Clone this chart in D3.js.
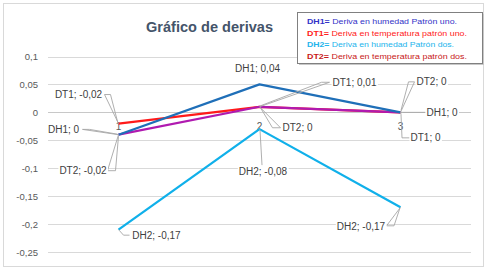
<!DOCTYPE html>
<html><head><meta charset="utf-8">
<script src="https://cdn.jsdelivr.net/npm/d3@7"></script>
<style>body{margin:0;background:#fff}svg{display:block}text{font-family:"Liberation Sans",Arial,sans-serif}</style>
</head><body>
<svg id="c" width="489" height="269"></svg>
<script>
// ---- data ----
const categories = ["1", "2", "3"];
const seriesNames = ["DT1", "DT2", "DH1", "DH2"]; // stacking order (Excel stacked line)
const DT1 = [-0.02, 0.01, 0];
const DT2 = [-0.02, 0, 0];
const DH1 = [0, 0.04, 0];
const DH2 = [-0.17, -0.08, -0.17];
const yTicks = [0.1, 0.05, 0, -0.05, -0.1, -0.15, -0.2, -0.25];
const title = "Gráfico de derivas";
const legendKeys = ["DH1=", "DT1=", "DH2=", "DT2="];
const legendTexts = [" Deriva en humedad Patrón uno.", " Deriva en temperatura patrón uno.", " Deriva en humedad Patrón dos.", " Deriva en temperatura patrón dos."];

// ---- styles / layout ----
const colors = {DT1: "#FF1A1A", DT2: "#B01AB0", DH1: "#1F6FB8", DH2: "#10B0EA"};
const legendColors = ["#3232C8", "#FF2020", "#22B4EC", "#C81818"];
const legendWidths = [150, 160, 147, 160];
// label placement: text centre offset from point, leader points offsets from point
const labelLayout = {
  DT1: [{t:[-40,-29], l:[[-14,-29],[-8,-29],[-1,-2]]},
        {t:[95,-24], l:[[70,-24.5],[62,-24.5],[1,-1]]},
        {t:[25,25.5], l:[[0.5,2],[1.5,25.5],[9,25.5]]}],
  DT2: [{t:[-35.5,36], l:[[-11,36],[-3,36],[0,1.5]]},
        {t:[38,21], l:[[21,21],[13,21],[1,1]]},
        {t:[31,-30.5], l:[[14,-30.5],[8,-30.5],[0.5,-2]]}],
  DH1: [{t:[-55,-5.3], l:[[-36,-5.3],[-29,-5.3],[-1,-0.5]]},
        {t:[-2,-16.5], l:null},
        {t:[41.5,0], l:[[2,0],[25,0]]}],
  DH2: [{t:[38,6], l:[[1,1],[5,5.5],[11,5.5]]},
        {t:[3.5,42], l:[[0.5,1],[2.5,36]]},
        {t:[-39.5,19], l:[[-14,18.5],[-6.5,18.5],[-0.5,0.5]]}]
};

const svg = d3.select("#c");
const x = d3.scalePoint().domain(categories).range([48, 471]).padding(0.5);
const y = d3.scaleLinear().domain([-0.25, 0.1]).range([252, 56.5]);

// outer border
svg.append("rect").attr("x", 3.5).attr("y", 3.5).attr("width", 480).attr("height", 263)
  .attr("fill", "#fff").attr("stroke", "#D9D9D9");

// gridlines
svg.append("g").selectAll("line").data(yTicks).join("line")
  .attr("x1", 48).attr("x2", 471).attr("y1", d => Math.round(y(d)) + 0.5).attr("y2", d => Math.round(y(d)) + 0.5)
  .attr("stroke", d => d === 0 ? "#C8C8C8" : "#D9D9D9").attr("stroke-width", 1);

// y axis labels
const fmt = v => String(+v.toFixed(4)).replace(".", ",");
svg.append("g").selectAll("text").data(yTicks).join("text")
  .attr("x", 38).attr("y", d => y(d) + 3.5).attr("text-anchor", "end")
  .attr("font-size", 9.5).attr("fill", "#595959").text(fmt);

// category labels
svg.append("g").selectAll("text").data(categories).join("text")
  .attr("x", d => x(d)).attr("y", y(0) + 17.5).attr("text-anchor", "middle")
  .attr("font-size", 10).attr("fill", "#595959").text(d => d);

// stacked data
const rows = categories.map((c, i) => ({cat: c, DT1: DT1[i], DT2: DT2[i], DH1: DH1[i], DH2: DH2[i]}));
const stacked = d3.stack().keys(seriesNames).offset(d3.stackOffsetNone)(rows);

const line = d3.line().x(d => x(d.data.cat)).y(d => y(d[1]));
svg.append("g").selectAll("path").data(stacked).join("path")
  .attr("d", s => line(s)).attr("fill", "none")
  .attr("stroke", s => colors[s.key]).attr("stroke-width", 2.25).attr("stroke-linejoin", "round");

// data labels
const lg = svg.append("g");
stacked.forEach(s => {
  s.forEach((d, i) => {
    const px = x(d.data.cat), py = y(d[1]);
    const L = labelLayout[s.key][i];
    if (L.l) {
      lg.append("polyline")
        .attr("points", [[0, 0], ...L.l].map(p => (px + p[0]) + "," + (py + p[1])).join(" "))
        .attr("fill", "none").attr("stroke", "#A6A6A6").attr("stroke-width", 0.9);
    }
  });
});
stacked.forEach(s => {
  s.forEach((d, i) => {
    const px = x(d.data.cat), py = y(d[1]);
    const L = labelLayout[s.key][i];
    const t = lg.append("text").attr("x", px + L.t[0]).attr("y", py + L.t[1] + 3.6)
      .attr("text-anchor", "middle").attr("font-size", 10).attr("fill", "#404040")
      .text(s.key + "; " + fmt(d.data[s.key]));
    const bb = t.node().getBBox();
    lg.insert("rect", () => t.node()).attr("x", bb.x - 1).attr("y", bb.y + 1).attr("width", bb.width + 2).attr("height", bb.height - 2).attr("fill", "#fff");
  });
});

// title
svg.append("text").attr("x", 209.5).attr("y", 31.5).attr("text-anchor", "middle")
  .attr("font-size", 15).attr("font-weight", "bold").attr("fill", "#44546A")
  .attr("textLength", 127).attr("lengthAdjust", "spacingAndGlyphs").text(title);

// legend box
svg.append("rect").attr("x", 299).attr("y", 14).attr("width", 185).attr("height", 51).attr("fill", "#C8C8C8");
svg.append("rect").attr("x", 297.5).attr("y", 12.5).attr("width", 185).attr("height", 51)
  .attr("fill", "#fff").attr("stroke", "#808080").attr("stroke-width", 1);
const legY = [23.6, 36, 47.3, 58.7];
legendKeys.forEach((k, i) => {
  const t = svg.append("text").attr("x", 307).attr("y", legY[i]).attr("font-size", 8)
    .attr("fill", legendColors[i]).attr("textLength", legendWidths[i]).attr("lengthAdjust", "spacingAndGlyphs");
  t.append("tspan").attr("font-weight", "bold").text(k);
  t.append("tspan").text(legendTexts[i]);
});
</script>
</body></html>
